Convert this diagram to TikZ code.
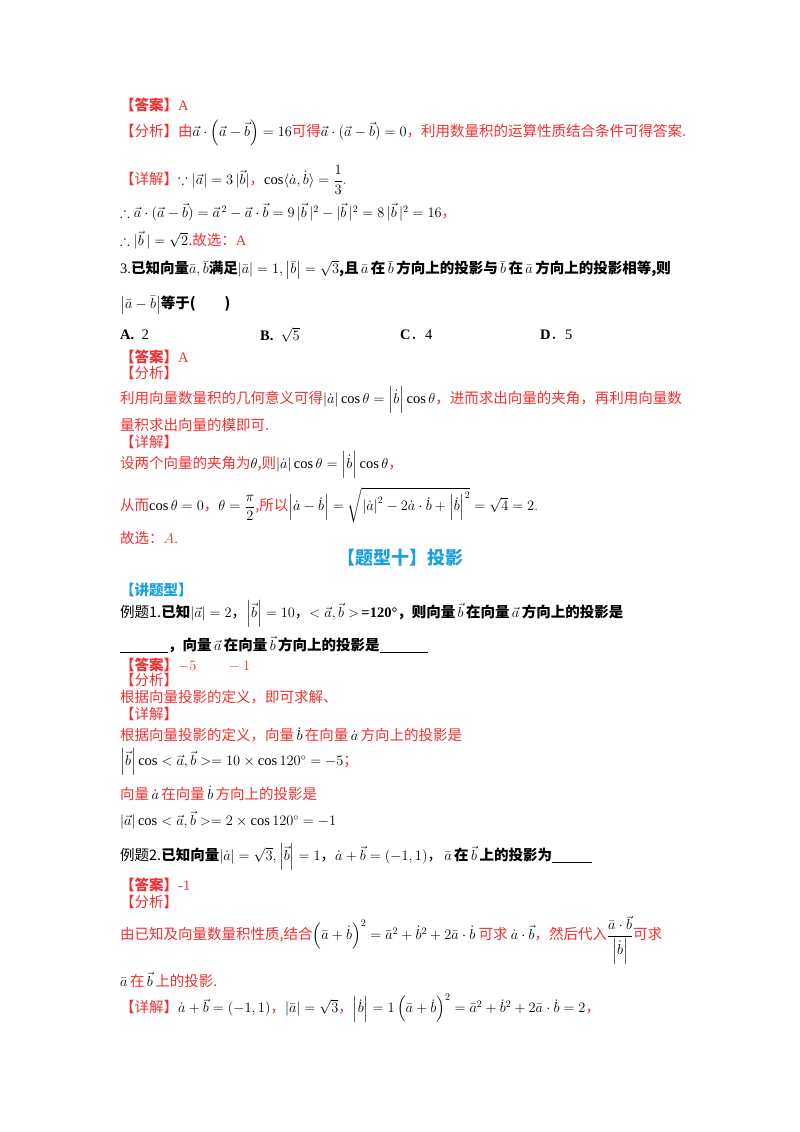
\documentclass[tikz,border=0pt]{standalone}
\usepackage{amsmath,amssymb}
\usepackage{fontspec}
\setmainfont{Liberation Serif}
\newfontfamily\cjk{Noto Sans CJK SC}
\definecolor{rd}{HTML}{F03030}
\definecolor{bl}{HTML}{1AA0E0}
\newcommand{\C}[1]{{\cjk #1}}
\newcommand{\va}{\vec a}
\newcommand{\vb}{\vec b}
\begin{document}
\begin{tikzpicture}[x=1pt,y=-1pt,
  ln/.style={anchor=west,inner sep=0pt,font=\fontsize{14.5}{16}\selectfont},
  r/.style={ln,text=rd}]
\useasboundingbox (0,0) rectangle (800,1132);
\node[r] (l1) at (120,105) {\C{\bfseries【答案】}A};
\node[r] (l2) at (120,133) {\C{【分析】由}\textcolor{black}{$\va\cdot\left(\va-\vb\right)=16$}\C{可得}\textcolor{black}{$\va\cdot(\va-\vb)=0$}\C{，利用数量积的运算性质结合条件可得答案.}};
\node[r] (l3) at (120,180) {\C{【详解】}\textcolor{black}{$\because|\va|=3\,|\vb|$}\C{，}\textcolor{black}{$\cos\langle\dot a,\dot b\rangle=\dfrac{1}{3}$}.};
\node[ln] (l4) at (120,212) {$\therefore\va\cdot(\va-\vb)=\va^{\,2}-\va\cdot\vb=9\,|\vb\,|^2-|\vb\,|^2=8\,|\vb\,|^2=16$\textcolor{rd}{\C{，}}};
\node[ln] (l5) at (120,240) {$\therefore|\vb\,|=\sqrt2$\textcolor{rd}{\C{.故选：}A}};
\node[ln] (l6) at (120,270) {3.\C{\bfseries 已知向量}$\bar a,\bar b$\C{\bfseries 满足}$\left|\bar a\right|=1,\left|\bar b\right|=\sqrt3$\C{\bfseries ,且}$\,\bar a\,$\C{\bfseries 在}$\,\bar b\,$\C{\bfseries 方向上的投影与}$\,\bar b\,$\C{\bfseries 在}$\,\bar a\,$\C{\bfseries 方向上的投影相等,则}};
\node[ln] (l7) at (120,305) {$\left|\bar a-\bar b\right|$\C{\bfseries 等于(\qquad)}};
\node[ln] (a) at (120,335) {\textbf{A.}\ \ 2};
\node[ln] (b) at (260,335) {\textbf{B.}\ \ $\sqrt5$};
\node[ln] (c) at (400,335) {\textbf{C}\C{．}4};
\node[ln] (d) at (540,335) {\textbf{D}\C{．}5};
\node[r] (m1) at (120,357) {\C{\bfseries【答案】}A};
\node[r] (m2) at (120,373) {\C{【分析】}};
\node[r] (m3) at (120,400) {\C{利用向量数量积的几何意义可得}\textcolor{black}{$\left|\dot a\right|\cos\theta=\left|\dot b\right|\cos\theta$}\C{，进而求出向量的夹角，再利用向量数}};
\node[r] (m4) at (120,425) {\C{量积求出向量的模即可.}};
\node[r] (m5) at (120,442) {\C{【详解】}};
\node[r] (m6) at (120,465) {\C{设两个向量的夹角为}\textcolor{black}{$\theta$}\C{,则}\textcolor{black}{$\left|\dot a\right|\cos\theta=\left|\dot b\right|\cos\theta$}\C{，}};
\node[r] (m7) at (120,505) {\C{从而}\textcolor{black}{$\cos\theta=0$}\C{，}\textcolor{black}{$\theta=\dfrac{\pi}{2}$}\C{,所以}\textcolor{black}{$\left|\dot a-\dot b\right|=\sqrt{\left|\dot a\right|^2-2\dot a\cdot\dot b+\left|\dot b\right|^2}=\sqrt4=2$}.};
\node[r] (m8) at (120,538) {\C{故选：}$A$.};
\node[anchor=center,inner sep=0pt,text=bl,font=\fontsize{18}{20}\selectfont] (h) at (400,558) {\C{\bfseries【题型十】投影}};
\node[ln,text=bl] (k) at (120,590) {\C{\bfseries【讲题型】}};
\node[ln] (e1) at (120,614) {\C{例题1.}\C{\bfseries 已知}$\left|\va\right|=2$\C{，}$\left|\vb\right|=10$\C{，}$<\va,\vb>$\,\textbf{=120°}\C{\bfseries ，则向量}$\,\vb\,$\C{\bfseries 在向量}$\,\va\,$\C{\bfseries 方向上的投影是}};
\node[ln] (e2) at (120,645) {\underline{\hspace{48pt}}\C{\bfseries ，向量}$\,\va\,$\C{\bfseries 在向量}$\,\vb\,$\C{\bfseries 方向上的投影是}\underline{\hspace{48pt}}};
\node[r] (e3) at (120,665) {\C{\bfseries【答案】}$-5\qquad-1$};
\node[r] (e4) at (120,680) {\C{【分析】}};
\node[r] (e5) at (120,697) {\C{根据向量投影的定义，即可求解、}};
\node[r] (e6) at (120,714) {\C{【详解】}};
\node[r] (e7) at (120,735) {\C{根据向量投影的定义，向量}\textcolor{black}{$\,\dot b\,$}\C{在向量}\textcolor{black}{$\,\dot a\,$}\C{方向上的投影是}};
\node[ln] (e8) at (120,762) {$\left|\vb\right|\cos<\va,\vb>=10\times\cos120^\circ=-5$\textcolor{rd}{\C{；}}};
\node[r] (e9) at (120,793) {\C{向量}\textcolor{black}{$\,\dot a\,$}\C{在向量}\textcolor{black}{$\,\dot b\,$}\C{方向上的投影是}};
\node[ln] (e10) at (120,820) {$\left|\va\right|\cos<\va,\vb>=2\times\cos120^\circ=-1$};
\node[ln] (f1) at (120,857) {\C{例题2.}\C{\bfseries 已知向量}$\left|\dot a\right|=\sqrt3,\left|\vb\right|=1$\C{，}$\dot a+\vb=\left(-1,1\right)$\C{，}$\,\bar a\,$\C{\bfseries 在}$\,\vec b\,$\C{\bfseries 上的投影为}\underline{\hspace{40pt}}};
\node[r] (f2) at (120,885) {\C{\bfseries【答案】}-1};
\node[r] (f3) at (120,902) {\C{【分析】}};
\node[r] (f4) at (120,940) {\C{由已知及向量数量积性质,结合}\textcolor{black}{$\left(\bar a+\dot b\right)^2=\bar a^2+\dot b^2+2\bar a\cdot\dot b$}\C{ 可求 }\textcolor{black}{$\dot a\cdot\vb$}\C{，然后代入}\textcolor{black}{$\dfrac{\bar a\cdot\vb}{\left|\dot b\right|}$}\C{可求}};
\node[r] (f5) at (120,980) {\textcolor{black}{$\bar a$}\,\C{在}\,\textcolor{black}{$\vb$}\,\C{上的投影.}};
\node[r] (f6) at (120,1008) {\C{【详解】}\textcolor{black}{$\dot a+\vb=\left(-1,1\right)$}\C{，}\textcolor{black}{$\left|\bar a\right|=\sqrt3$}\C{，}\textcolor{black}{$\left|\dot b\right|=1\left(\bar a+\dot b\right)^2=\bar a^2+\dot b^2+2\bar a\cdot\dot b=2$}\C{，}};
\end{tikzpicture}
\end{document}
